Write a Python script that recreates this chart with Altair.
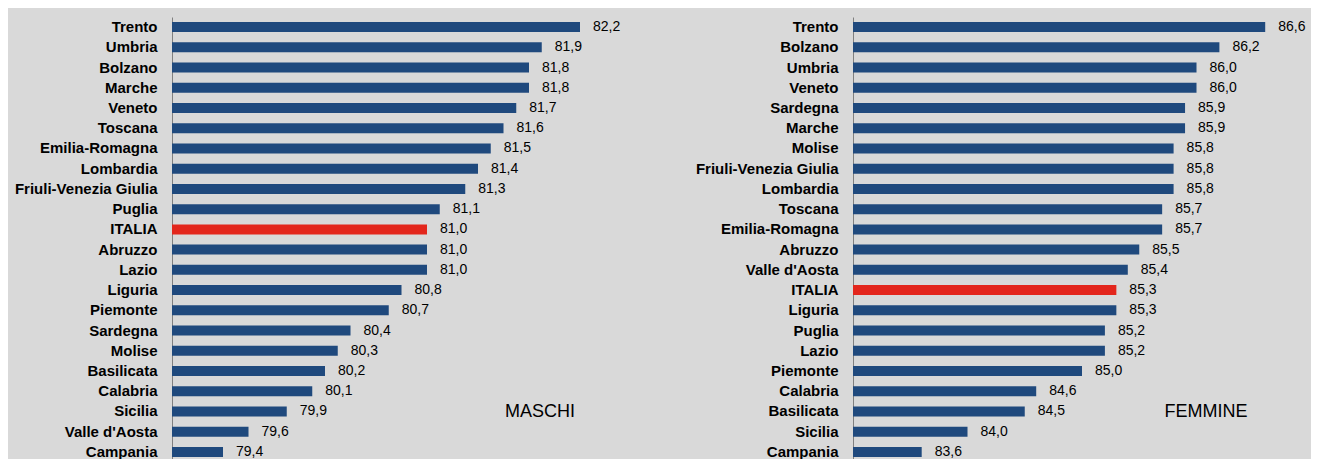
import altair as alt
import pandas as pd

regions_m = ["Trento", "Umbria", "Bolzano", "Marche", "Veneto", "Toscana", "Emilia-Romagna",
             "Lombardia", "Friuli-Venezia Giulia", "Puglia", "ITALIA", "Abruzzo", "Lazio",
             "Liguria", "Piemonte", "Sardegna", "Molise", "Basilicata", "Calabria", "Sicilia",
             "Valle d'Aosta", "Campania"]
values_m = [82.2, 81.9, 81.8, 81.8, 81.7, 81.6, 81.5, 81.4, 81.3, 81.1, 81.0, 81.0, 81.0,
            80.8, 80.7, 80.4, 80.3, 80.2, 80.1, 79.9, 79.6, 79.4]

regions_f = ["Trento", "Bolzano", "Umbria", "Veneto", "Sardegna", "Marche", "Molise",
             "Friuli-Venezia Giulia", "Lombardia", "Toscana", "Emilia-Romagna", "Abruzzo",
             "Valle d'Aosta", "ITALIA", "Liguria", "Puglia", "Lazio", "Piemonte", "Calabria",
             "Basilicata", "Sicilia", "Campania"]
values_f = [86.6, 86.2, 86.0, 86.0, 85.9, 85.9, 85.8, 85.8, 85.8, 85.7, 85.7, 85.5, 85.4,
            85.3, 85.3, 85.2, 85.2, 85.0, 84.6, 84.5, 84.0, 83.6]

FONT = "Liberation Sans"
BLUE = "#1f497d"
RED = "#e3261c"


def panel(regions, values, dmin, dmax, width, title, title_x):
    df = pd.DataFrame({"regione": regions, "valore": values})
    df["label"] = [f"{v:.1f}".replace(".", ",") for v in values]
    df["base"] = dmin
    y = alt.Y("regione:N", sort=regions, title=None,
              scale=alt.Scale(paddingInner=0, paddingOuter=0),
              axis=alt.Axis(ticks=False, labelPadding=15, labelFont=FONT, labelFontSize=15,
                            labelFontWeight="bold", labelColor="#000000",
                            domainColor="#808080", domainWidth=1,
                            minExtent=164, maxExtent=164, labelLimit=200))
    x = alt.X("valore:Q", title=None, axis=None,
              scale=alt.Scale(domain=[dmin, dmax], zero=False, nice=False))
    bars = alt.Chart(df).mark_bar(size=10).encode(
        y=y, x=x, x2="base:Q",
        color=alt.condition(alt.datum.regione == "ITALIA", alt.value(RED), alt.value(BLUE)),
    )
    labels = alt.Chart(df).mark_text(align="left", baseline="middle", dx=13, font=FONT,
                                     fontSize=14, color="#000000").encode(
        y=y, x=x, text="label:N")
    note = alt.Chart(pd.DataFrame({"t": [title]})).mark_text(
        align="center", baseline="middle", font=FONT, fontSize=18, color="#000000"
    ).encode(x=alt.value(title_x), y=alt.value(395), text="t:N")
    return alt.layer(bars, labels, note).properties(width=width, height=445)


left = panel(regions_m, values_m, 79.0, 82.6, 459, "MASCHI", 368)
right = panel(regions_f, values_f, 83.0, 87.0, 458, "FEMMINE", 353)

chart = alt.hconcat(left, right, spacing=58).properties(
    padding={"left": 0, "top": 9, "right": 0, "bottom": 0}
).configure(background="#d9d9d9").configure_view(stroke=None)

chart.save("out.html", embed_options={"renderer": "svg", "actions": False})
